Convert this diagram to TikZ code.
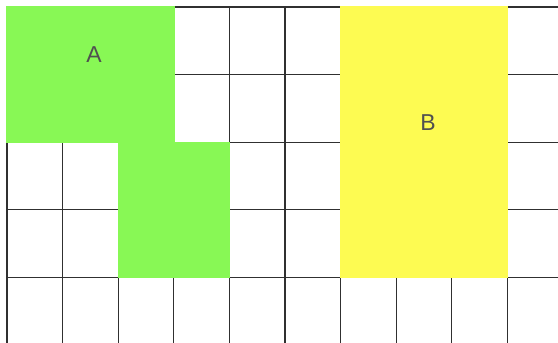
\documentclass[tikz,border=0pt]{standalone}
\usepackage{fontspec}
\setmainfont{Liberation Sans}
\usepackage{xcolor}
\usepackage{tikz}
\usetikzlibrary{positioning}
\definecolor{CellGreen}{HTML}{88F855}
\definecolor{CellYellow}{HTML}{FDFB52}
\definecolor{GridInk}{HTML}{303030}
\definecolor{LabelInk}{HTML}{505050}

\begin{document}
\begin{tikzpicture}[
  x=1pt, y=-1pt,
  gridline/.style={draw=GridInk, line width=1.3pt},
  regionA/.style={fill=CellGreen, draw=CellGreen, line width=1.4pt},
  regionB/.style={fill=CellYellow, draw=CellYellow, line width=1.4pt},
  tag/.style={font=\fontsize{23}{23}\selectfont, text=LabelInk, inner sep=0pt}
]
  \useasboundingbox (0,0) rectangle (558,343);
  \clip (0,0) rectangle (558,343);

  % cells of 55.6 x 67.6, grid runs past the right and bottom edges
  \begin{scope}[shift={(7,7)}, x=55.6pt, y=-67.6pt]
    \foreach \col in {0,...,10}
      \draw[gridline] (\col,0) -- (\col,5);
    \foreach \row in {0,...,5}
      \draw[gridline] (0,\row) -- (10,\row);
    \filldraw[regionA] (0,0) -- (3,0) -- (3,2) -- (4,2) -- (4,4) -- (2,4) -- (2,2) -- (0,2) -- cycle;
    \filldraw[regionB] (6,0) rectangle (9,4);
  \end{scope}

  \node[tag] (labA) at (94,55) {A};
  \node[tag] (labB) at (428,123) {B};
\end{tikzpicture}
\end{document}
